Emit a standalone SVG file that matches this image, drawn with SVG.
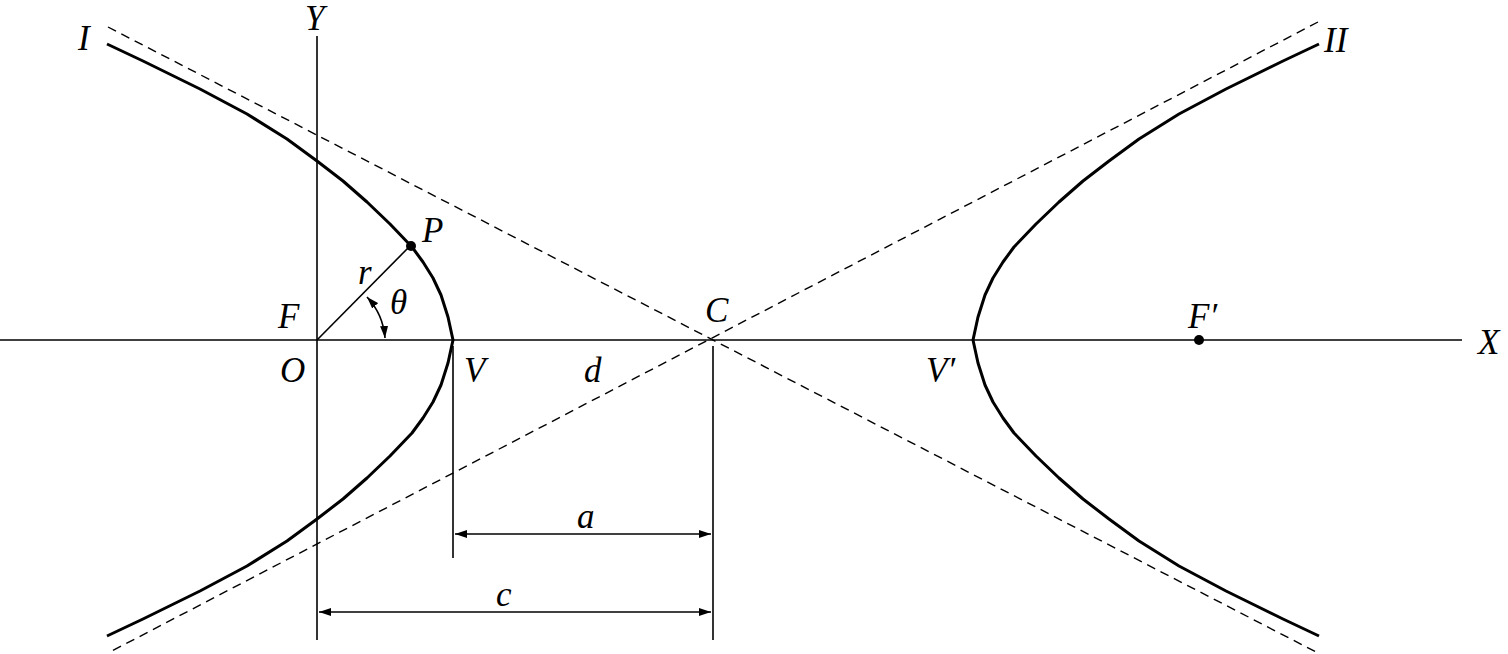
<svg xmlns="http://www.w3.org/2000/svg" width="1508" height="654" viewBox="0 0 1508 654">
<style>
.t{font-family:"Liberation Serif",serif;font-style:italic;font-size:35px;fill:#000}
.thin{stroke:#000;stroke-width:1.6;fill:none}
.thick{stroke:#000;stroke-width:3;fill:none;stroke-linejoin:round}
.dash{stroke:#000;stroke-width:1.4;fill:none;stroke-dasharray:9,6}
</style>
<defs>
<marker id="ar" viewBox="0 0 12 8" refX="12" refY="4" markerWidth="12" markerHeight="8" orient="auto-start-reverse" markerUnits="userSpaceOnUse"><path d="M0,0 L12,4 L0,8 Z" fill="#000"/></marker>
</defs>
<rect width="1508" height="654" fill="#fff"/>
<g id="axes">
<line class="thin" x1="0" y1="340" x2="1462" y2="340"/>
<line class="thin" x1="317" y1="36" x2="317" y2="640"/>
<line class="thin" x1="453" y1="346" x2="453" y2="558"/>
<line class="thin" x1="713" y1="346" x2="713" y2="640"/>
</g>
<g id="asymptotes">
<line class="dash" x1="108" y1="27" x2="1318" y2="653"/>
<line class="dash" x1="1318" y1="22" x2="108" y2="653"/>
</g>
<g id="branch-I">
<polyline class="thick" points="107,44 143,61 200,89 247,114 287,139 317,161 343,181 367,202 390,224 412,247 423,262 433,278 441,295 448,317 453,340 448,363 441,385 433,402 423,418 412,433 390,456 367,478 343,499 317,519 287,541 247,566 200,591 143,619 107,636"/>
</g>
<g id="branch-II">
<polyline class="thick" points="1319,44 1283,61 1226,89 1179,114 1139,139 1109,161 1083,181 1059,202 1036,224 1014,247 1003,262 993,278 985,295 978,317 973,340 978,363 985,385 993,402 1003,418 1014,433 1036,456 1059,478 1083,499 1109,519 1139,541 1179,566 1226,591 1283,619 1319,636"/>
</g>
<g id="connectors">
<line class="thin" x1="317" y1="340" x2="410" y2="246"/>
<path class="thin" d="M367,297 A68,68 0 0 1 385,338" marker-start="url(#ar)" marker-end="url(#ar)"/>
<line class="thin" x1="455" y1="534" x2="711" y2="534" marker-start="url(#ar)" marker-end="url(#ar)"/>
<line class="thin" x1="319" y1="612" x2="711" y2="612" marker-start="url(#ar)" marker-end="url(#ar)"/>
</g>
<g id="points">
<circle cx="411" cy="246" r="5"/>
<circle cx="1199" cy="340" r="5"/>
</g>
<g id="labels">
<text class="t" x="78" y="50">I</text>
<text class="t" x="305" y="30">Y</text>
<text class="t" x="1324" y="52">II</text>
<text class="t" x="422" y="242">P</text>
<text class="t" x="358" y="284">r</text>
<text class="t" x="390" y="314">θ</text>
<text class="t" x="278" y="328">F</text>
<text class="t" x="280" y="382">O</text>
<text class="t" x="464" y="382">V</text>
<text class="t" x="584" y="382">d</text>
<text class="t" x="705" y="322">C</text>
<text class="t" x="926" y="382">V′</text>
<text class="t" x="1188" y="328">F′</text>
<text class="t" x="1478" y="354">X</text>
<text class="t" x="577" y="528">a</text>
<text class="t" x="496" y="606">c</text>
</g>
</svg>
